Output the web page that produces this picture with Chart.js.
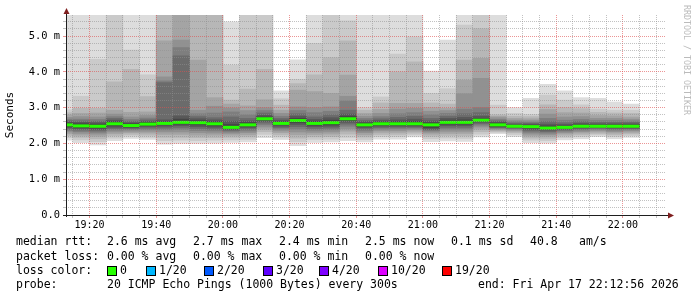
<!DOCTYPE html>
<html>
<head>
<meta charset="utf-8">
<title>SmokePing</title>
<script src="https://cdn.jsdelivr.net/npm/chart.js"></script>
<style>
  body { margin: 0; background: #fff; }
  #wrap { position: relative; width: 697px; height: 297px; font-family: 'DejaVu Sans Mono', monospace; color: #000; }
  #wrap canvas { position: absolute; left: 0; top: 0; }
  .t { position: absolute; font-size: 11.5px; line-height: 14px; white-space: pre; }
  .box { position: absolute; width: 8px; height: 8px; border: 1px solid #000; }
  #credit { position: absolute; left: 682px; top: 5px; writing-mode: vertical-rl; font-size: 8.3px; line-height: 10px; color: #bbb; }
</style>
</head>
<body>
<div id="wrap">
  <canvas id="smoke" width="697" height="297"></canvas>
  <div id="credit">RRDTOOL / TOBI OETIKER</div>

  <div class="t" style="left:16px;top:234px">median rtt:</div>
  <div class="t" style="left:107px;top:234px">2.6 ms avg</div>
  <div class="t" style="left:193px;top:234px">2.7 ms max</div>
  <div class="t" style="left:279px;top:234px">2.4 ms min</div>
  <div class="t" style="left:365px;top:234px">2.5 ms now</div>
  <div class="t" style="left:451px;top:234px">0.1 ms sd</div>
  <div class="t" style="left:530px;top:234px">40.8</div>
  <div class="t" style="left:579px;top:234px">am/s</div>

  <div class="t" style="left:16px;top:249px">packet loss:</div>
  <div class="t" style="left:107px;top:249px">0.00 % avg</div>
  <div class="t" style="left:193px;top:249px">0.00 % max</div>
  <div class="t" style="left:279px;top:249px">0.00 % min</div>
  <div class="t" style="left:365px;top:249px">0.00 % now</div>

  <div class="t" style="left:16px;top:263px">loss color:</div>
  <div id="lossRow"></div>

  <div class="t" style="left:16px;top:277px">probe:</div>
  <div class="t" style="left:107px;top:277px">20 ICMP Echo Pings (1000 Bytes) every 300s</div>
  <div class="t" style="left:478px;top:277px">end: Fri Apr 17 22:12:56 2026</div>
</div>

<script>
  // end time of each 5 minute sample
  var sampleTimes = ['19:15', '19:20', '19:25', '19:30', '19:35', '19:40', '19:45', '19:50', '19:55',
    '20:00', '20:05', '20:10', '20:15', '20:20', '20:25', '20:30', '20:35', '20:40', '20:45', '20:50',
    '20:55', '21:00', '21:05', '21:10', '21:15', '21:20', '21:25', '21:30', '21:35', '21:40', '21:45',
    '21:50', '21:55', '22:00', '22:05'];

  // median rtt (ms)
  var medianRtt = [2.52, 2.49, 2.48, 2.55, 2.50, 2.54, 2.56, 2.59, 2.58, 2.55, 2.45, 2.52, 2.69, 2.56,
    2.64, 2.56, 2.58, 2.69, 2.52, 2.55, 2.55, 2.55, 2.52, 2.59, 2.59, 2.65, 2.52, 2.48, 2.47, 2.43,
    2.45, 2.48, 2.48, 2.48, 2.48];

  // the 20 pings of every sample, sorted (ms)
  var pingRtts = [
    [2.09, 2.16, 2.22, 2.27, 2.32, 2.36, 2.40, 2.44, 2.47, 2.50, 2.54, 2.57, 2.60, 2.64, 2.68, 2.73, 2.80, 2.86, 2.94, 6.00],
    [2.02, 2.10, 2.17, 2.23, 2.28, 2.33, 2.37, 2.41, 2.44, 2.47, 2.51, 2.55, 2.59, 2.63, 2.68, 2.75, 2.84, 2.98, 3.32, 6.20],
    [1.96, 2.05, 2.13, 2.20, 2.26, 2.31, 2.35, 2.39, 2.43, 2.46, 2.50, 2.54, 2.58, 2.62, 2.67, 2.74, 2.85, 2.98, 4.35, 6.30],
    [2.08, 2.15, 2.21, 2.27, 2.32, 2.37, 2.41, 2.45, 2.49, 2.53, 2.57, 2.61, 2.65, 2.70, 2.75, 2.82, 2.93, 3.72, 6.00, 6.40],
    [2.14, 2.20, 2.25, 2.30, 2.34, 2.38, 2.41, 2.44, 2.46, 2.48, 2.52, 2.55, 2.58, 2.62, 2.67, 2.74, 2.87, 4.07, 4.61, 6.10],
    [2.11, 2.17, 2.23, 2.29, 2.34, 2.39, 2.43, 2.47, 2.50, 2.52, 2.56, 2.59, 2.62, 2.66, 2.71, 2.78, 2.88, 3.31, 3.92, 6.00],
    [1.98, 2.08, 2.17, 2.25, 2.32, 2.38, 2.43, 2.48, 2.52, 2.55, 2.57, 2.61, 2.66, 3.70, 3.75, 3.86, 4.87, 6.00, 6.20, 6.40],
    [2.00, 2.09, 2.17, 2.25, 2.32, 2.39, 2.45, 2.50, 2.54, 2.57, 2.61, 2.68, 2.77, 4.45, 4.68, 4.89, 6.00, 6.10, 6.30, 6.50],
    [2.00, 2.08, 2.16, 2.23, 2.30, 2.36, 2.42, 2.47, 2.52, 2.56, 2.60, 2.64, 2.69, 2.75, 2.83, 2.93, 4.33, 6.00, 6.20, 6.40],
    [2.01, 2.09, 2.16, 2.23, 2.29, 2.35, 2.40, 2.45, 2.49, 2.53, 2.57, 2.61, 2.66, 2.72, 2.85, 3.04, 3.28, 6.00, 6.20, 6.40],
    [2.03, 2.10, 2.17, 2.23, 2.28, 2.32, 2.36, 2.39, 2.42, 2.44, 2.47, 2.53, 2.62, 2.74, 2.88, 2.99, 3.10, 3.21, 4.19, 5.40],
    [2.04, 2.11, 2.18, 2.24, 2.30, 2.35, 2.40, 2.44, 2.48, 2.51, 2.54, 2.58, 2.63, 2.70, 2.80, 2.92, 3.05, 3.52, 6.00, 6.20],
    [2.16, 2.25, 2.33, 2.40, 2.46, 2.52, 2.57, 2.61, 2.65, 2.68, 2.70, 2.74, 2.79, 2.85, 2.92, 3.00, 3.22, 4.07, 6.00, 6.20],
    [2.11, 2.18, 2.24, 2.30, 2.35, 2.40, 2.44, 2.48, 2.52, 2.55, 2.58, 2.61, 2.65, 2.70, 2.76, 2.84, 2.93, 3.07, 3.25, 3.47],
    [1.94, 2.05, 2.15, 2.24, 2.32, 2.40, 2.47, 2.53, 2.58, 2.62, 2.66, 2.70, 2.76, 2.83, 2.92, 3.02, 3.49, 3.67, 3.79, 4.34],
    [2.03, 2.11, 2.18, 2.25, 2.31, 2.37, 2.42, 2.47, 2.51, 2.54, 2.58, 2.62, 2.67, 2.74, 2.86, 3.00, 3.45, 3.92, 4.80, 6.00],
    [2.04, 2.12, 2.19, 2.26, 2.32, 2.38, 2.43, 2.48, 2.52, 2.56, 2.60, 2.65, 2.72, 2.80, 2.90, 3.02, 3.40, 4.40, 6.00, 6.20],
    [2.08, 2.17, 2.26, 2.34, 2.41, 2.48, 2.54, 2.59, 2.64, 2.67, 2.71, 2.76, 2.82, 2.93, 3.19, 3.32, 3.91, 4.87, 5.43, 6.00],
    [2.04, 2.11, 2.18, 2.24, 2.30, 2.35, 2.40, 2.44, 2.48, 2.51, 2.54, 2.57, 2.61, 2.65, 2.70, 2.76, 2.84, 2.93, 3.00, 6.00],
    [2.12, 2.19, 2.25, 2.31, 2.36, 2.40, 2.44, 2.48, 2.51, 2.54, 2.57, 2.60, 2.64, 2.69, 2.75, 2.84, 2.95, 3.13, 3.30, 6.00],
    [2.12, 2.19, 2.25, 2.31, 2.36, 2.41, 2.45, 2.48, 2.51, 2.54, 2.57, 2.61, 2.66, 2.73, 2.83, 2.96, 3.12, 4.00, 4.50, 6.00],
    [2.18, 2.24, 2.29, 2.34, 2.38, 2.42, 2.45, 2.48, 2.51, 2.54, 2.57, 2.62, 2.68, 2.76, 2.86, 2.98, 3.12, 4.28, 4.98, 6.00],
    [2.05, 2.13, 2.20, 2.26, 2.31, 2.35, 2.38, 2.40, 2.44, 2.50, 2.54, 2.58, 2.63, 2.70, 2.80, 2.90, 3.00, 3.13, 3.40, 4.02],
    [2.07, 2.15, 2.22, 2.28, 2.34, 2.40, 2.45, 2.50, 2.54, 2.57, 2.61, 2.65, 2.70, 2.76, 2.84, 2.92, 2.98, 3.10, 3.53, 4.89],
    [2.06, 2.14, 2.21, 2.28, 2.34, 2.40, 2.45, 2.50, 2.54, 2.57, 2.61, 2.66, 2.73, 2.83, 2.96, 3.39, 3.77, 4.33, 5.31, 6.00],
    [2.18, 2.26, 2.33, 2.40, 2.46, 2.51, 2.55, 2.59, 2.62, 2.64, 2.66, 2.70, 2.76, 2.86, 3.00, 3.82, 4.38, 5.21, 6.00, 6.20],
    [2.27, 2.31, 2.34, 2.37, 2.40, 2.42, 2.44, 2.46, 2.48, 2.50, 2.54, 2.57, 2.60, 2.63, 2.67, 2.72, 2.76, 2.80, 3.07, 6.00],
    [2.19, 2.25, 2.30, 2.34, 2.37, 2.40, 2.42, 2.44, 2.46, 2.47, 2.49, 2.51, 2.54, 2.57, 2.61, 2.65, 2.70, 2.76, 2.84, 3.00],
    [2.02, 2.09, 2.15, 2.21, 2.26, 2.31, 2.35, 2.39, 2.43, 2.46, 2.48, 2.51, 2.54, 2.57, 2.60, 2.64, 2.69, 2.75, 2.81, 3.26],
    [2.01, 2.08, 2.14, 2.20, 2.25, 2.29, 2.33, 2.37, 2.40, 2.42, 2.45, 2.49, 2.54, 2.61, 2.70, 2.82, 2.95, 3.08, 3.35, 3.65],
    [2.10, 2.16, 2.21, 2.26, 2.30, 2.34, 2.37, 2.40, 2.42, 2.44, 2.46, 2.49, 2.53, 2.58, 2.65, 2.74, 2.86, 3.00, 3.21, 3.47],
    [2.13, 2.19, 2.24, 2.29, 2.33, 2.37, 2.40, 2.43, 2.45, 2.47, 2.49, 2.52, 2.56, 2.61, 2.67, 2.75, 2.85, 2.97, 3.08, 3.28],
    [2.19, 2.24, 2.28, 2.32, 2.36, 2.39, 2.42, 2.44, 2.46, 2.47, 2.49, 2.52, 2.55, 2.59, 2.64, 2.70, 2.78, 2.87, 2.96, 3.26],
    [2.13, 2.19, 2.24, 2.29, 2.33, 2.37, 2.40, 2.43, 2.45, 2.47, 2.49, 2.52, 2.55, 2.59, 2.64, 2.70, 2.77, 2.85, 2.93, 3.16],
    [2.17, 2.22, 2.27, 2.31, 2.35, 2.38, 2.41, 2.43, 2.45, 2.47, 2.49, 2.52, 2.55, 2.59, 2.63, 2.68, 2.74, 2.84, 2.93, 3.10]
  ];

  var timeTicks = ['19:20', '19:40', '20:00', '20:20', '20:40', '21:00', '21:20', '21:40', '22:00'];
  var rttTicks = [0, 1, 2, 3, 4, 5];

  var lossLabels = ['0', '1/20', '2/20', '3/20', '4/20', '10/20', '19/20'];
  var lossColors = ['#26ff00', '#00b8ff', '#0059ff', '#5e00ff', '#7e00ff', '#dd00ff', '#ff0000'];

  var graphEnd = '22:12:56';
  var graphSpan = 180; // minutes
  var yTop = 5.59;

  var mono = "'DejaVu Sans Mono', monospace";
  var minorGrid = 'rgba(143,143,143,0.55)';
  var majorGrid = 'rgba(222,79,79,0.6)';

  // minutes since midnight
  function toMin(s) {
    var p = s.split(':').map(Number);
    return p[0] * 60 + p[1] + (p[2] || 0) / 60;
  }
  function toLabel(v) {
    var t = Math.round(v);
    return String(Math.floor(t / 60)).padStart(2, '0') + ':' + String(t % 60).padStart(2, '0');
  }

  // loss colour legend
  var lossX = [107, 146, 204, 263, 319, 378, 442];
  var row = document.getElementById('lossRow');
  lossLabels.forEach(function (lab, i) {
    var b = document.createElement('div');
    b.className = 'box';
    b.style.left = lossX[i] + 'px';
    b.style.top = '266px';
    b.style.background = lossColors[i];
    row.appendChild(b);
    var t = document.createElement('div');
    t.className = 't';
    t.style.left = (lossX[i] + 13) + 'px';
    t.style.top = '263px';
    t.textContent = lab;
    row.appendChild(t);
  });

  var xMax = toMin(graphEnd);
  var xMin = xMax - graphSpan;
  var centers = sampleTimes.map(function (s) { return toMin(s) - 2.5; });

  // smoke: band i covers ping i .. ping 21-i, darker towards the median
  var datasets = [];
  var half = 10;
  for (var i = 1; i <= half; i++) {
    var c = Math.floor(190 / half * (half - i)) + 50;
    datasets.push({
      label: 'smoke' + i,
      data: pingRtts.map(function (p, k) { return { x: centers[k], y: [p[i - 1], p[20 - i]] }; }),
      backgroundColor: 'rgb(' + c + ',' + c + ',' + c + ')',
      order: 20 - i
    });
  }
  datasets.push({
    label: 'median',
    data: medianRtt.map(function (m, k) { return { x: centers[k], y: [m - 0.042, m + 0.042] }; }),
    backgroundColor: lossColors[0],
    inflateAmount: 0,
    order: 0
  });

  var axesPlugin = {
    id: 'rrdAxes',
    afterDraw: function (chart) {
      var ctx = chart.ctx, a = chart.chartArea;
      ctx.save();
      ctx.strokeStyle = '#1f1f1f';
      ctx.lineWidth = 1;
      ctx.beginPath();
      ctx.moveTo(a.left + 0.5, a.bottom + 2);
      ctx.lineTo(a.left + 0.5, a.top - 3);
      ctx.moveTo(a.left - 3, a.bottom + 0.5);
      ctx.lineTo(a.right + 3, a.bottom + 0.5);
      ctx.stroke();
      ctx.fillStyle = '#7f1f1f';
      ctx.beginPath();
      ctx.moveTo(a.left + 0.5, a.top - 7);
      ctx.lineTo(a.left - 2.5, a.top - 1);
      ctx.lineTo(a.left + 3.5, a.top - 1);
      ctx.closePath();
      ctx.fill();
      ctx.beginPath();
      ctx.moveTo(a.right + 8, a.bottom + 0.5);
      ctx.lineTo(a.right + 2, a.bottom - 2.5);
      ctx.lineTo(a.right + 2, a.bottom + 3.5);
      ctx.closePath();
      ctx.fill();
      ctx.restore();
    }
  };

  function isMajorTime(c) {
    return c.tick && timeTicks.indexOf(toLabel(c.tick.value)) >= 0;
  }
  function isMajorRtt(c) {
    return c.tick && rttTicks.indexOf(Math.round(c.tick.value * 10) / 10) >= 0;
  }

  var ctx = document.getElementById('smoke').getContext('2d');
  var myChart = new Chart(ctx, {
    type: 'bar',
    data: { datasets: datasets },
    plugins: [axesPlugin],
    options: {
      responsive: false,
      animation: false,
      devicePixelRatio: 1,
      layout: { padding: { top: 15, right: 31, left: 0, bottom: 0 } },
      plugins: { legend: { display: false }, tooltip: { enabled: false } },
      datasets: {
        bar: {
          grouped: false,
          barPercentage: 1,
          categoryPercentage: 1,
          borderWidth: 0,
          clip: 0
        }
      },
      scales: {
        x: {
          type: 'linear',
          min: xMin,
          max: xMax,
          offset: false,
          afterBuildTicks: function (s) {
            var ticks = [];
            for (var v = Math.ceil(xMin / 5) * 5; v < xMax; v += 5) ticks.push({ value: v });
            s.ticks = ticks;
          },
          afterFit: function (s) { s.height = 82; },
          grid: {
            offset: false,
            z: 1,
            tickLength: 3,
            color: function (c) { return isMajorTime(c) ? majorGrid : minorGrid; },
            tickColor: function (c) { return isMajorTime(c) ? majorGrid : minorGrid; }
          },
          border: { display: false, dash: [1, 1] },
          ticks: {
            autoSkip: false,
            maxRotation: 0,
            padding: 1,
            color: '#000',
            font: { family: mono, size: 10 },
            callback: function (v) { var l = toLabel(v); return timeTicks.indexOf(l) >= 0 ? l : ''; }
          }
        },
        y: {
          min: 0,
          max: yTop,
          afterFit: function (s) { s.width = 66; },
          grid: {
            z: 1,
            tickLength: 3,
            color: function (c) { return isMajorRtt(c) ? majorGrid : minorGrid; },
            tickColor: function (c) { return isMajorRtt(c) ? majorGrid : minorGrid; }
          },
          border: { display: false, dash: [1, 1] },
          ticks: {
            stepSize: 0.2,
            autoSkip: false,
            includeBounds: false,
            padding: 3,
            color: '#000',
            font: { family: mono, size: 10.4 },
            callback: function (v) {
              var r = Math.round(v * 10) / 10;
              if (rttTicks.indexOf(r) < 0) return '';
              return r === 0 ? '0.0' : r.toFixed(1) + ' m';
            }
          },
          title: {
            display: true,
            text: 'Seconds',
            color: '#000',
            font: { family: mono, size: 11 },
            padding: { top: 4, bottom: 0 }
          }
        }
      }
    }
  });
</script>
</body>
</html>
